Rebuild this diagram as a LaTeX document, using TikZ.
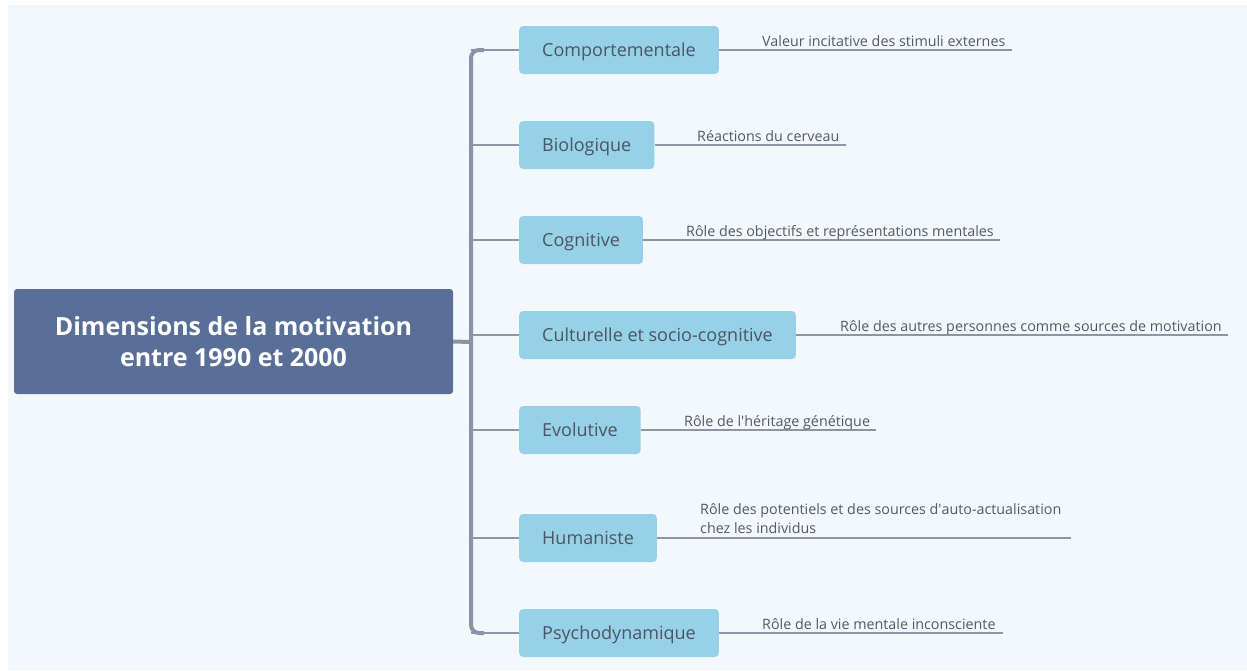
\documentclass[tikz,border=0pt]{standalone}
\usepackage{fontspec}
\setmainfont{Open Sans}
\definecolor{bgc}{HTML}{F3F8FD}
\definecolor{rootc}{HTML}{5A6F97}
\definecolor{trunkc}{HTML}{8893A8}
\definecolor{thinc}{HTML}{8C96A8}
\definecolor{nodec}{HTML}{97D1E7}
\definecolor{ntext}{HTML}{4B5563}
\definecolor{ltext}{HTML}{555A60}
\tikzset{
  rootbox/.style={fill=rootc, rounded corners=3pt, text=white, font=\fontsize{25}{31}\selectfont\bfseries, align=center, minimum width=439pt, minimum height=105pt, inner sep=0pt},
  catbox/.style={fill=nodec, rounded corners=4pt, text=ntext, font=\fontsize{18}{22}\selectfont, minimum height=48pt, inner xsep=23pt, inner ysep=0pt, text height=12pt, text depth=0pt, anchor=west},
  lbl/.style={text=ltext, font=\fontsize{14.3}{19}\selectfont, inner sep=0pt, anchor=base west, align=left},
  thick line/.style={draw=trunkc, line width=4pt},
  thin line/.style={draw=thinc, line width=1.4pt},
}
\begin{document}
\begin{tikzpicture}[x=1pt,y=-1pt]
\useasboundingbox (0,0) rectangle (1247,670);
\fill[white] (0,0) rectangle (1247,670);
\fill[bgc] (8,5) rectangle (1247,670);

\node[rootbox] (root) at (233.5,341.5) {Dimensions de la motivation\\entre 1990 et 2000};

\node[catbox] (c1) at (519,50) {Comportementale};
\node[catbox] (c2) at (519,145) {Biologique};
\node[catbox] (c3) at (519,240) {Cognitive};
\node[catbox] (c4) at (519,335) {Culturelle et socio-cognitive};
\node[catbox] (c5) at (519,430) {Evolutive};
\node[catbox] (c6) at (519,538) {Humaniste};
\node[catbox] (c7) at (519,633) {Psychodynamique};

\coordinate (tj) at (471,342);
\coordinate (t1) at (471,50);
\coordinate (t2) at (471,145);
\coordinate (t3) at (471,240);
\coordinate (t4) at (471,335);
\coordinate (t5) at (471,430);
\coordinate (t6) at (471,538);
\coordinate (t7) at (471,633);

% trunk
\draw[thick line, rounded corners=8pt] (484,50) -- (t1) -- (t7) -- (484,633);
\draw[thick line] (root.east) -- (tj);

% branches
\foreach \i in {1,...,7} { \draw[thin line] (t\i) -- (c\i.west); }

% labels
\coordinate (e1) at (1012,50);
\coordinate (e2) at (846,145);
\coordinate (e3) at (1000,240);
\coordinate (e4) at (1228,335);
\coordinate (e5) at (876,430);
\coordinate (e6) at (1071,538);
\coordinate (e7) at (1003,633);
\foreach \i in {1,...,7} { \draw[thin line] (c\i.east) -- (e\i); }

\node[lbl] (l1) at (762,46) {Valeur incitative des stimuli externes};
\node[lbl] (l2) at (697,141) {Réactions du cerveau};
\node[lbl] (l3) at (686,236) {Rôle des objectifs et représentations mentales};
\node[lbl] (l4) at (840,331) {Rôle des autres personnes comme sources de motivation};
\node[lbl] (l5) at (684,426) {Rôle de l\textquotesingle héritage génétique};
\node[lbl] (l6a) at (700,514) {Rôle des potentiels et des sources d\textquotesingle auto-actualisation};
\node[lbl] (l6b) at (700,533) {chez les individus};
\node[lbl] (l7) at (762,629) {Rôle de la vie mentale inconsciente};
\end{tikzpicture}
\end{document}
